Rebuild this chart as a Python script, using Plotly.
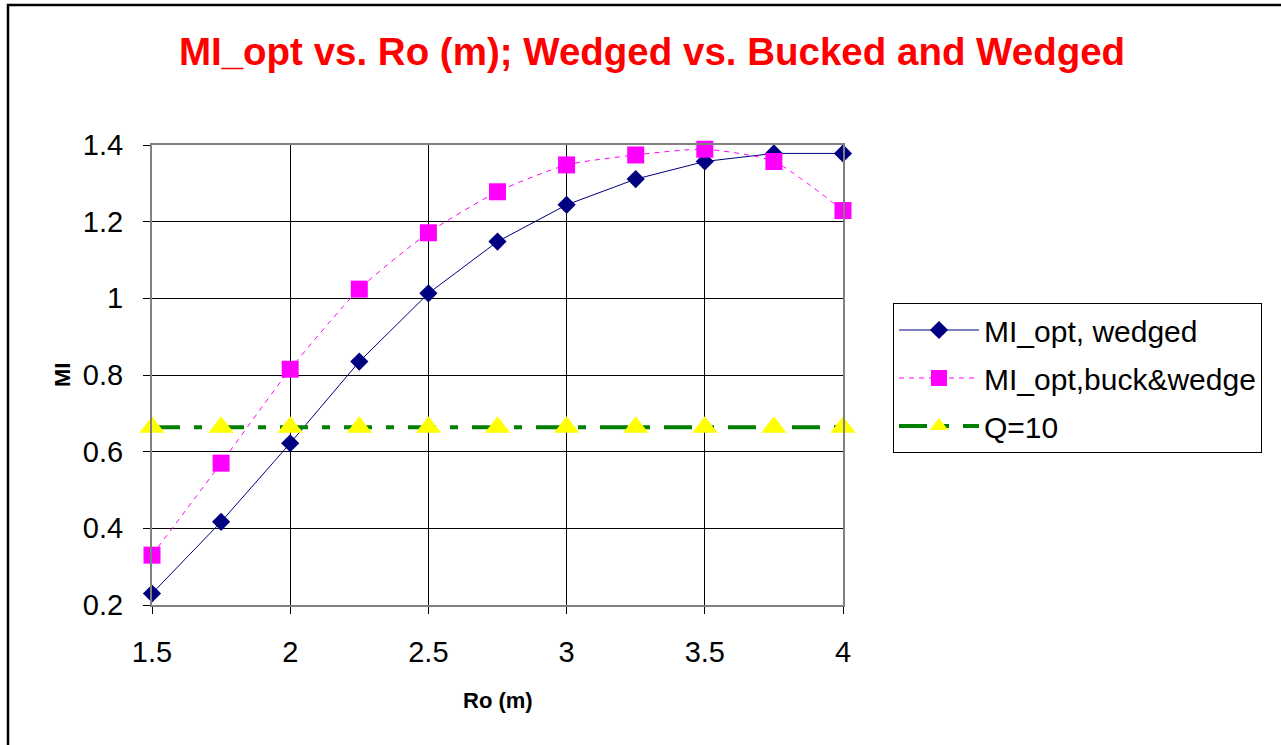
import plotly.graph_objects as go

ro = [1.5, 1.75, 2.0, 2.25, 2.5, 2.75, 3.0, 3.25, 3.5, 3.75, 4.0]
mi_wedged = [0.23, 0.417, 0.622, 0.835, 1.013, 1.148, 1.244, 1.311, 1.357, 1.378, 1.378]
mi_buck_wedge = [0.33, 0.57, 0.815, 1.024, 1.171, 1.278, 1.348, 1.374, 1.389, 1.357, 1.229]
q10 = [0.664] * 11

FONT = "Liberation Sans, Arial, sans-serif"

fig = go.Figure()
fig.add_trace(go.Scatter(
    x=ro, y=mi_wedged, name="MI_opt, wedged", mode="lines+markers",
    line=dict(color="#000080", width=1),
    marker=dict(symbol="diamond", size=14, color="#000080"),
    cliponaxis=False, legendgroup="a"))
fig.add_trace(go.Scatter(
    x=ro, y=mi_buck_wedge, name="MI_opt,buck&wedge", mode="lines+markers",
    line=dict(color="#FF00FF", width=1, dash="5px,5px", shape="spline", smoothing=0.6),
    marker=dict(symbol="square", size=17, color="#FF00FF"),
    cliponaxis=False, legendgroup="b"))
fig.add_trace(go.Scatter(
    x=ro, y=q10, name="Q=10", mode="lines+markers",
    line=dict(color="#008000", width=4, dash="28px,14px,8px,14px"),
    marker=dict(symbol="triangle-up", size=22, color="#FFFF00"),
    cliponaxis=False, legendgroup="c"))

fig.update_layout(
    width=1281, height=745,
    margin=dict(l=152, r=438, t=145, b=140),
    paper_bgcolor="white", plot_bgcolor="white",
    font=dict(family=FONT, color="black"),
    title=dict(text="<b>MI_opt vs. Ro (m); Wedged vs. Bucked and Wedged</b>",
               font=dict(size=38.5, color="#FF0000", family=FONT),
               x=0.509, xanchor="center", xref="container",
               y=1 - 52 / 745, yanchor="middle", yref="container"),
    showlegend=True,
    legend=dict(x=(893 - 152) / 691, y=(605 - 303) / 460, xanchor="left", yanchor="top",
                bordercolor="black", borderwidth=1, bgcolor="white",
                font=dict(size=30, family=FONT, color="black"),
                tracegroupgap=6, itemwidth=80),
    xaxis=dict(range=[1.5, 4], dtick=0.5, tick0=1.5, showgrid=True, gridcolor="black", gridwidth=1,
               showline=True, linecolor="#808080", linewidth=2, mirror=True,
               ticks="outside", ticklen=7, tickcolor="black", tickwidth=1,
               tickfont=dict(size=29, family=FONT), ticklabelstandoff=13, zeroline=False),
    yaxis=dict(range=[0.2, 1.4], dtick=0.2, tick0=0.2, showgrid=True, gridcolor="black", gridwidth=1,
               showline=True, linecolor="#808080", linewidth=2, mirror=True,
               ticks="outside", ticklen=7, tickcolor="black", tickwidth=1,
               tickfont=dict(size=29, family=FONT), ticklabelstandoff=14, zeroline=False),
    annotations=[
        dict(text="<b>Ro (m)</b>", x=0.5, y=(605 - 700) / 460, xref="paper", yref="paper",
             showarrow=False, font=dict(size=22, family=FONT), xanchor="center", yanchor="middle"),
        dict(text="<b>MI</b>", x=(62 - 152) / 691, y=0.5, xref="paper", yref="paper",
             showarrow=False, font=dict(size=22, family=FONT), textangle=-90,
             xanchor="center", yanchor="middle"),
    ],
    shapes=[
        dict(type="rect", xref="paper", yref="paper",
             x0=(8 - 152) / 691, x1=(1290 - 152) / 691,
             y0=(605 - 760) / 460, y1=(605 - 5) / 460,
             line=dict(color="black", width=2.5), fillcolor="rgba(0,0,0,0)", layer="below"),
    ],
)

fig.write_html("out.html")
